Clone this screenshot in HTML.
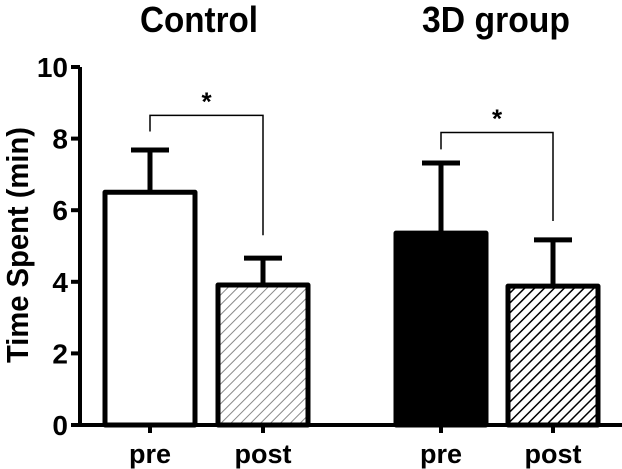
<!DOCTYPE html>
<html><head><meta charset="utf-8"><style>
body{margin:0;background:#fff;}
svg{display:block;font-family:"Liberation Sans",Arial,sans-serif;font-weight:bold;}
</style></head><body>
<svg id="chart" width="622" height="469">
<defs>
<pattern id="hatchGray" patternUnits="userSpaceOnUse" width="7" height="7" patternTransform="rotate(45)">
<line x1="0" y1="0" x2="0" y2="7" stroke="#888" stroke-width="2"/></pattern>
<pattern id="hatchBlack" patternUnits="userSpaceOnUse" width="7" height="7" patternTransform="rotate(45)">
<line x1="0" y1="0" x2="0" y2="7" stroke="#000" stroke-width="3"/></pattern>
</defs>
<text x="199" y="32" font-size="36" text-anchor="middle" textLength="118" lengthAdjust="spacingAndGlyphs">Control</text>
<text x="496" y="32" font-size="36" text-anchor="middle" textLength="148" lengthAdjust="spacingAndGlyphs">3D group</text>
<text transform="translate(28,245) rotate(-90)" font-size="31" text-anchor="middle" textLength="236" lengthAdjust="spacingAndGlyphs">Time Spent (min)</text>
<g id="plot"></g>
</svg>
<script>
const categories=["pre","post","pre","post"];
const means=[6.5,3.91,5.36,3.88];
const errors=[1.18,0.75,1.96,1.29];
const fills=["#fff","url(#hatchGray)","#000","url(#hatchBlack)"];
const yTicks=[0,2,4,6,8,10];
const sigPairs=[[0,1],[2,3]];
const sigLabels=["*","*"];
const sigHeights=[8.65,8.17];
const sigLeftEnds=[8.2,7.7];
const sigRightEnds=[5.3,5.7];
const NS="http://www.w3.org/2000/svg";
const g=document.getElementById('plot');
const y0=425,pxPer=35.8,axX=80;
const centers=[150,263,441,553];
const barW=90;
function y(v){return y0-v*pxPer;}
function mk(t,a){const e=document.createElementNS(NS,t);for(const k in a)e.setAttribute(k,a[k]);g.appendChild(e);return e;}
let e;
e=mk('line',{x1:axX,y1:y(10),x2:axX,y2:y0+2,stroke:'#000','stroke-width':4});


e=mk('line',{x1:axX-2,y1:y0,x2:622,y2:y0,stroke:'#000','stroke-width':4});


yTicks.forEach(t=>{
 e=mk('line',{x1:axX-9,y1:y(t),x2:axX,y2:y(t),stroke:'#000','stroke-width':4});
 
 
 e=mk('text',{x:axX-12,y:y(t)+10,'font-size':28,'text-anchor':'end'});e.textContent=t;
 
 
});
means.forEach((m,i)=>{
 const c=centers[i];
 e=mk('line',{x1:c,y1:y(m+errors[i]),x2:c,y2:y(m),stroke:'#000','stroke-width':5});
 
 
 e=mk('line',{x1:c-19,y1:y(m+errors[i]),x2:c+19,y2:y(m+errors[i]),stroke:'#000','stroke-width':5});
 
 
 e=mk('rect',{x:c-barW/2,y:y(m),width:barW,height:y0-y(m),fill:fills[i],stroke:'#000','stroke-width':5,'stroke-linejoin':'round'});
 
 
 e=mk('line',{x1:c,y1:y0,x2:c,y2:y0+8,stroke:'#000','stroke-width':4});
 
 
 e=mk('text',{x:c,y:463,'font-size':27,'text-anchor':'middle'});e.textContent=categories[i];
 
 
});
sigPairs.forEach((p,k)=>{
 const a=centers[p[0]],b=centers[p[1]];
 const by=y(sigHeights[k]), ly=y(sigLeftEnds[k]), ry=y(sigRightEnds[k]);
 e=mk('polyline',{points:`${a},${ly} ${a},${by} ${b},${by} ${b},${ry}`,fill:'none',stroke:'#000','stroke-width':1.5});
 
 
 e=mk('text',{x:(a+b)/2,y:by-5,'font-size':26,'text-anchor':'middle'});e.textContent=sigLabels[k];
 
 
});
</script>
</body></html>
